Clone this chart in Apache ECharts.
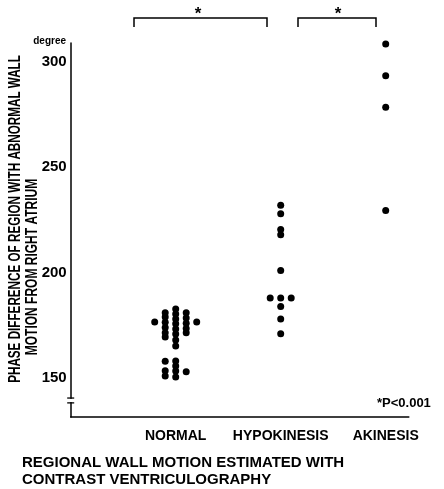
<!DOCTYPE html>
<html>
<head>
<meta charset="utf-8">
<script src="https://cdn.jsdelivr.net/npm/echarts@6/dist/echarts.min.js"></script>
<style>
html,body{margin:0;padding:0;background:#fff;}
#chart{width:444px;height:489px;}
</style>
</head>
<body>
<div id="chart"></div>
<script>
// ---- data ----
const categories = ['NORMAL', 'HYPOKINESIS', 'AKINESIS'];
const yTickLabels = [150, 200, 250, 300];

// NORMAL group: value (degree) and dot column (side-by-side placement of equal values)
const normalValues  = [182.8, 180.4, 178.0, 175.7, 173.3, 170.9, 168.1, 165.2, 158.1, 155.7, 153.3, 150.5,
                       181.0, 179.0, 176.5, 174.0, 171.5, 169.5, 158.0, 153.5, 151.0,
                       181.0, 178.5, 176.0, 173.5, 171.5, 153.0,
                       176.6, 176.6];
const normalColumns = [0, 0, 0, 0, 0, 0, 0, 0, 0, 0, 0, 0,
                       -1, -1, -1, -1, -1, -1, -1, -1, -1,
                       1, 1, 1, 1, 1, 1,
                       -2, 2];

const hypoValues  = [232.0, 228.0, 220.5, 218.0, 201.0, 188.0, 184.0, 178.0, 171.0, 188.0, 188.0];
const hypoColumns = [0, 0, 0, 0, 0, 0, 0, 0, 0, -1, 1];

const akinValues  = [308.5, 293.5, 278.5, 229.5];
const akinColumns = [0, 0, 0, 0];

const FONT = "'Liberation Sans Narrow', 'Liberation Sans', Arial, sans-serif";
const colStep = 0.1;

function pts(catIndex, values, cols) {
  return values.map((v, i) => [catIndex + cols[i] * colStep, v]);
}

const chart = echarts.init(document.getElementById('chart'), null, {renderer: 'canvas'});

const dotStyle = {color: '#000', opacity: 1};
const option = {
  backgroundColor: '#ffffff',
  animation: false,
  grid: {left: 70.7, right: 35.2, top: 43, bottom: 72},
  xAxis: {
    type: 'value',
    min: -1, max: 2.22,
    axisLine: {show: true, onZero: false, lineStyle: {color: '#000', width: 1.5}},
    axisTick: {show: false},
    splitLine: {show: false},
    axisLabel: {
      customValues: [0, 1, 2],
      formatter: v => categories[Math.round(v)] || '',
      color: '#000', fontFamily: FONT, fontWeight: 'bold', fontSize: 14, margin: 12
    }
  },
  yAxis: {
    type: 'value',
    min: 131.5, max: 309,
    axisLine: {show: true, onZero: false, lineStyle: {color: '#000', width: 1.5}},
    axisTick: {show: false},
    splitLine: {show: false},
    axisLabel: {
      customValues: yTickLabels,
      color: '#000', fontFamily: FONT, fontWeight: 'bold', fontSize: 15, margin: 4
    }
  },
  series: [
    {type: 'scatter', data: pts(0, normalValues, normalColumns), symbolSize: 7, itemStyle: dotStyle},
    {type: 'scatter', data: pts(1, hypoValues, hypoColumns), symbolSize: 7, itemStyle: dotStyle},
    {type: 'scatter', data: pts(2, akinValues, akinColumns), symbolSize: 7, itemStyle: dotStyle}
  ]
};
chart.setOption(option);

// decorations (axis break, titles, significance brackets)
const axX = chart.convertToPixel({gridIndex: 0}, [-1, 140.5])[0];
const brTop = chart.convertToPixel({gridIndex: 0}, [-1, 140.5])[1];
const brBot = chart.convertToPixel({gridIndex: 0}, [-1, 138.2])[1];

const txt = (text, x, y, size, extra) => ({
  type: 'text', x: x, y: y,
  style: Object.assign({text: text, fill: '#000', fontFamily: FONT, fontWeight: 'bold', fontSize: size,
                        align: 'left', verticalAlign: 'middle'}, extra || {})
});

chart.setOption({
  graphic: [
    {type: 'rect', shape: {x: axX - 3, y: brTop + 0.8, width: 6, height: brBot - brTop - 1.6}, style: {fill: '#fff'}, z: 100},
    {type: 'line', shape: {x1: axX - 3.5, y1: brTop, x2: axX + 3.5, y2: brTop}, style: {stroke: '#000', lineWidth: 1.3}, z: 101},
    {type: 'line', shape: {x1: axX - 3.5, y1: brBot, x2: axX + 3.5, y2: brBot}, style: {stroke: '#000', lineWidth: 1.3}, z: 101},
    txt('degree', 66, 41, 10, {align: 'right'}),
    {type: 'text', x: 16, y: 219, rotation: Math.PI / 2, scaleX: 0.73,
     style: {text: 'PHASE DIFFERENCE OF REGION WITH ABNORMAL WALL', fill: '#000', fontFamily: FONT, fontWeight: 'bold', fontSize: 16, align: 'center', verticalAlign: 'middle'}},
    {type: 'text', x: 33, y: 267, rotation: Math.PI / 2, scaleX: 0.75,
     style: {text: 'MOTION FROM RIGHT ATRIUM', fill: '#000', fontFamily: FONT, fontWeight: 'bold', fontSize: 16, align: 'center', verticalAlign: 'middle'}},
    txt('REGIONAL WALL MOTION ESTIMATED WITH', 22, 463, 15),
    txt('CONTRAST VENTRICULOGRAPHY', 22, 480, 15),
    txt('*P<0.001', 377, 403, 13),
    {type: 'polyline', shape: {points: [[134, 27], [134, 18], [267, 18], [267, 27]]}, style: {stroke: '#000', lineWidth: 1.5, fill: null}},
    {type: 'polyline', shape: {points: [[298, 27], [298, 18], [376, 18], [376, 27]]}, style: {stroke: '#000', lineWidth: 1.5, fill: null}},
    txt('*', 198, 14, 17, {align: 'center'}),
    txt('*', 338, 14, 17, {align: 'center'})
  ]
});
</script>
</body>
</html>
